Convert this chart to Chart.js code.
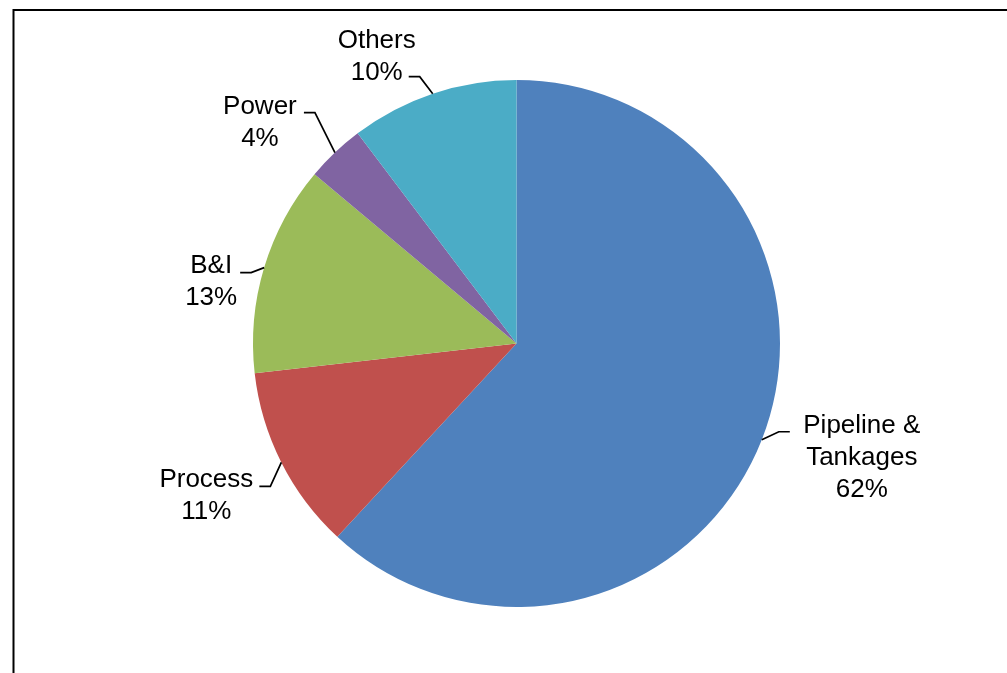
<!DOCTYPE html>
<html>
<head>
<meta charset="utf-8">
<script src="https://cdn.jsdelivr.net/npm/chart.js@4"></script>
<style>
  html, body { margin: 0; padding: 0; background: #fff; }
  canvas { display: block; }
</style>
</head>
<body>
<canvas id="pie" width="1007" height="673"></canvas>
<script>
// sectors, clockwise from 12 o'clock
const categories = [["Pipeline &", "Tankages"], "Process", "B&I", "Power", "Others"];
const shares = [61.9, 11.3, 12.9, 3.6, 10.3];
const colors = ["#4F81BD", "#C0504D", "#9BBB59", "#8064A2", "#4BACC6"];

// where each label sits relative to the point on the rim (Excel-ish best fit)
const labelPlacement = [
  { text: [100, 18], elbow: [17, -8], dir: 1 },
  { text: [-75, 33], elbow: [-11, 24], dir: -1 },
  { text: [-53, 14], elbow: [-13, 5], dir: -1 },
  { text: [-75, -30], elbow: [-20, -40], dir: -1 },
  { text: [-56, -37], elbow: [-13, -17], dir: -1 }
];

const total = shares.reduce((a, b) => a + b, 0);

const frame = {
  id: "frame",
  beforeDraw(chart) {
    const ctx = chart.ctx;
    ctx.save();
    ctx.fillStyle = "#fff";
    ctx.fillRect(0, 0, chart.width, chart.height);
    ctx.strokeStyle = "#000";
    ctx.lineWidth = 2;
    ctx.strokeRect(13.5, 10, 2000, 2000);
    ctx.restore();
  }
};

const leaderLabels = {
  id: "leaderLabels",
  afterDatasetsDraw(chart) {
    const ctx = chart.ctx;
    const arcs = chart.getDatasetMeta(0).data;
    ctx.save();
    ctx.font = "26px 'Liberation Sans', Arial, sans-serif";
    ctx.fillStyle = "#000";
    ctx.strokeStyle = "#000";
    ctx.lineWidth = 1.7;
    ctx.textAlign = "center";
    ctx.textBaseline = "middle";
    arcs.forEach((arc, i) => {
      const p = arc.getProps(["x", "y", "startAngle", "endAngle", "outerRadius"], true);
      const mid = (p.startAngle + p.endAngle) / 2;
      const ex = p.x + p.outerRadius * Math.cos(mid);
      const ey = p.y + p.outerRadius * Math.sin(mid);
      const pl = labelPlacement[i];
      const bx = ex + pl.elbow[0], by = ey + pl.elbow[1];
      ctx.beginPath();
      ctx.moveTo(ex, ey);
      ctx.lineTo(bx, by);
      ctx.lineTo(bx + pl.dir * 11, by);
      ctx.stroke();

      const name = [].concat(categories[i]);
      const lines = name.concat([Math.round(shares[i] / total * 100) + "%"]);
      const cx = ex + pl.text[0], cy = ey + pl.text[1];
      const lh = 32;
      lines.forEach((t, k) => {
        ctx.fillText(t, cx, cy + (k - (lines.length - 1) / 2) * lh);
      });
    });
    ctx.restore();
  }
};

new Chart(document.getElementById("pie"), {
  type: "pie",
  data: {
    labels: categories,
    datasets: [{
      data: shares,
      backgroundColor: colors,
      borderWidth: 0
    }]
  },
  options: {
    responsive: false,
    animation: false,
    layout: { padding: { left: 253, right: 227, top: 80, bottom: 66 } },
    plugins: {
      legend: { display: false },
      tooltip: { enabled: false }
    }
  },
  plugins: [frame, leaderLabels]
});
</script>
</body>
</html>
